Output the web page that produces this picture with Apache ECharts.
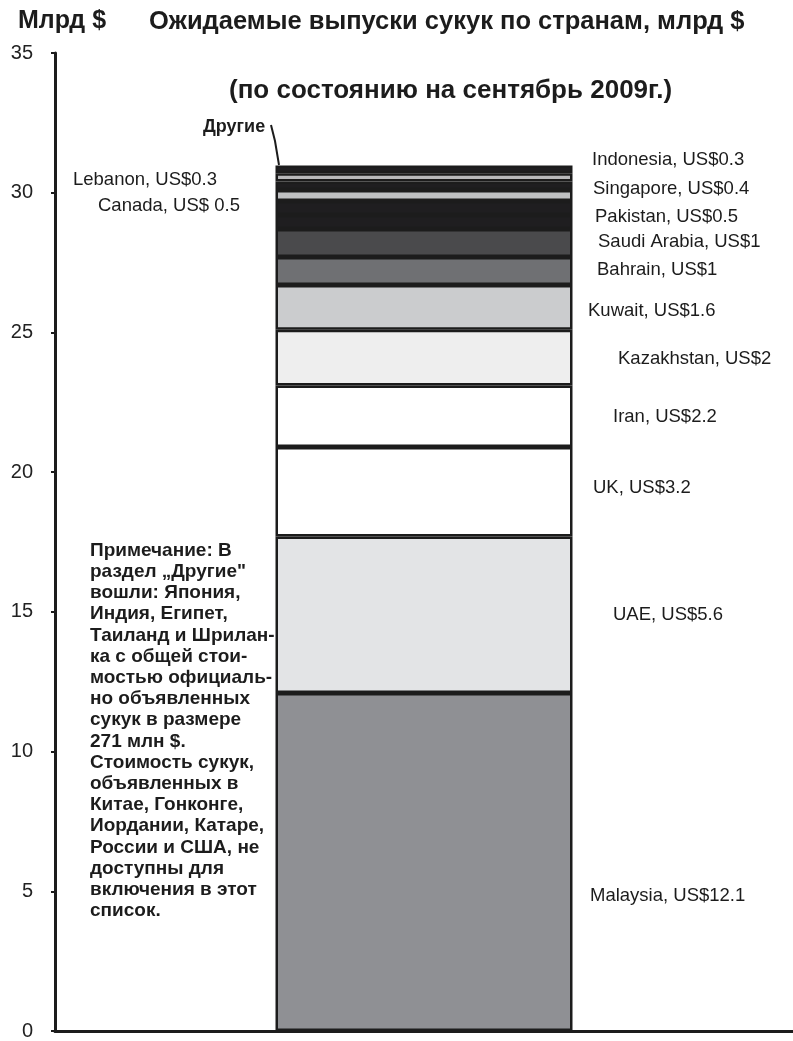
<!DOCTYPE html>
<html>
<head>
<meta charset="utf-8">
<script src="https://cdn.jsdelivr.net/npm/echarts@6/dist/echarts.min.js"></script>
<style>
  html, body { margin: 0; padding: 0; background: #ffffff; }
  #chart { width: 793px; height: 1041px; }
</style>
</head>
<body>
<div id="chart"></div>
<script>
// Stack order, bottom to top
const countries = ['Malaysia', 'UAE', 'UK', 'Iran', 'Kazakhstan', 'Kuwait', 'Bahrain',
  'Saudi Arabia', 'Pakistan', 'Canada', 'Singapore', 'Lebanon', 'Indonesia', 'Другие'];
const values = [12.1, 5.6, 3.2, 2.2, 2, 1.6, 1, 1, 0.5, 0.5, 0.4, 0.3, 0.3, 0.271];
const category = ['Сукук'];
const yTicks = { min: 0, max: 35, interval: 5 };

const titleMain = 'Ожидаемые выпуски сукук по странам, млрд $';
const titleSub = '(по состоянию на сентябрь 2009г.)';
const unitLabel = 'Млрд $';
const noteLines = [
  'Примечание: В',
  'раздел „Другие"',
  'вошли: Япония,',
  'Индия, Египет,',
  'Таиланд и Шрилан-',
  'ка с общей стои-',
  'мостью официаль-',
  'но объявленных',
  'сукук в размере',
  '271 млн $.',
  'Стоимость сукук,',
  'объявленных в',
  'Китае, Гонконге,',
  'Иордании, Катаре,',
  'России и США, не',
  'доступны для',
  'включения в этот',
  'список.'
];

// Segment fills, same order as the stack
const fills = ['#8f9094', '#e3e4e6', '#ffffff', '#ffffff', '#eeeeee', '#cbccce', '#6f7073',
  '#4a4a4c', '#1f1e20', '#1f1e20', '#bfc0c2', '#1f1e20', '#b9b9bb', '#1f1e20'];

// Where each country's annotation sits (left x, middle y); Другие is drawn separately
const labelAt = {
  'Malaysia': [590, 896], 'UAE': [613, 615], 'UK': [593, 488], 'Iran': [613, 417],
  'Kazakhstan': [618, 359], 'Kuwait': [588, 311], 'Bahrain': [597, 270],
  'Saudi Arabia': [598, 242], 'Pakistan': [595, 217], 'Canada': [98, 206],
  'Singapore': [593, 189], 'Lebanon': [73, 180], 'Indonesia': [592, 160]
};

function valueText(name, v) {
  const prefix = name === 'Canada' ? 'US$ ' : 'US$';
  return name + ', ' + prefix + v;
}

const FONT = '"Liberation Sans", Arial, sans-serif';
const INK = '#1c1c1c';

const series = countries.map((name, i) => ({
  name: name,
  type: 'bar',
  stack: 'total',
  barWidth: 297,
  data: [values[i]],
  itemStyle: { color: fills[i], borderColor: INK, borderWidth: 2.5 },
  emphasis: { disabled: true },
  animation: false
}));

const graphics = [];
graphics.push({ type: 'text', left: 18, top: 9,
  style: { text: unitLabel, font: 'bold 25px ' + FONT, fill: INK } });
graphics.push({ type: 'text', left: 149, top: 9,
  style: { text: titleMain, font: 'bold 25.5px ' + FONT, fill: INK } });
graphics.push({ type: 'text', left: 229, top: 78,
  style: { text: titleSub, font: 'bold 26px ' + FONT, fill: INK } });

countries.forEach((name, i) => {
  const pos = labelAt[name];
  if (!pos) return;
  graphics.push({ type: 'text', x: pos[0], y: pos[1],
    style: { text: valueText(name, values[i]), font: '18.5px ' + FONT, fill: INK,
      textAlign: 'left', textVerticalAlign: 'middle' } });
});

// "Другие" with its leader line to the top of the stack
graphics.push({ type: 'text', x: 203, y: 127,
  style: { text: 'Другие', font: 'bold 18px ' + FONT, fill: INK,
    textAlign: 'left', textVerticalAlign: 'middle' } });
graphics.push({ type: 'polyline',
  shape: { points: [[271, 125], [275, 141], [279, 165]] },
  style: { stroke: INK, lineWidth: 2, fill: null } });

// Footnote block
graphics.push({ type: 'text', left: 90, top: 540,
  style: { text: noteLines.join('\n'), font: 'bold 19px ' + FONT, fill: INK,
    lineHeight: 21.2 } });

const chart = echarts.init(document.getElementById('chart'), null, { renderer: 'canvas' });
chart.setOption({
  animation: false,
  backgroundColor: '#ffffff',
  grid: { left: 55, right: 0, top: 53, bottom: 6, containLabel: false },
  xAxis: {
    type: 'category',
    data: category,
    axisLine: { show: true, lineStyle: { color: INK, width: 3 } },
    axisTick: { show: false },
    axisLabel: { show: false }
  },
  yAxis: {
    type: 'value',
    min: yTicks.min,
    max: yTicks.max,
    interval: yTicks.interval,
    axisLine: { show: true, lineStyle: { color: INK, width: 3 } },
    axisTick: { show: true, length: 4, lineStyle: { color: INK, width: 2 } },
    axisLabel: { margin: 22, fontSize: 20, fontFamily: FONT, color: '#222222' },
    splitLine: { show: false }
  },
  series: series,
  graphic: graphics
});
</script>
</body>
</html>
